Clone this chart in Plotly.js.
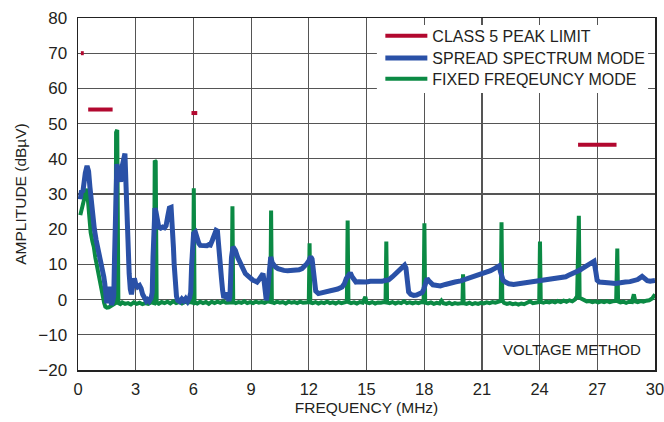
<!DOCTYPE html>
<html>
<head>
<meta charset="utf-8">
<script src="https://cdn.plot.ly/plotly-3.0.1.min.js"></script>
<style>html,body{margin:0;padding:0;background:#fff;}#chart{width:664px;height:422px;}</style>
</head>
<body>
<div id="chart"></div>
<script>
// CLASS 5 PEAK LIMIT segments (null separates segments)
const limitFreq = [0.15, 0.3, null, 0.53, 1.8, null, 5.9, 6.2, null, 26, 28];
const limitAmp  = [70, 70, null, 54, 54, null, 53, 53, null, 44, 44];

// SPREAD SPECTRUM MODE
const ssFreq = [0.12,0.18,0.25,0.3,0.38,0.47,0.55,0.62,0.7,0.77,0.85,0.94,1.02,1.1,1.2,1.28,1.34,1.39,1.45,1.5,1.56,1.62,1.68,1.74,1.8,1.86,1.9,1.95,2.02,2.08,2.15,2.22,2.3,2.38,2.44,2.5,2.55,2.6,2.66,2.72,2.78,2.85,2.93,3.0,3.1,3.2,3.28,3.36,3.45,3.55,3.62,3.7,3.8,3.86,3.9,3.95,4.0,4.05,4.12,4.2,4.3,4.4,4.5,4.58,4.66,4.75,4.84,4.9,4.96,5.0,5.06,5.12,5.18,5.3,5.4,5.5,5.6,5.7,5.8,5.86,5.91,5.96,6.01,6.1,6.18,6.28,6.36,6.5,6.6,6.7,6.8,6.88,6.98,7.08,7.18,7.25,7.32,7.4,7.46,7.52,7.58,7.65,7.72,7.78,7.85,7.9,7.94,7.98,8.06,8.12,8.18,8.3,8.44,8.55,8.7,8.82,8.96,9.1,9.2,9.31,9.4,9.48,9.55,9.62,9.68,9.74,9.79,9.85,9.92,9.97,10.02,10.1,10.18,10.26,10.4,10.52,10.7,10.9,11.1,11.3,11.5,11.65,11.8,11.9,12.0,12.1,12.17,12.25,12.3,12.36,12.5,12.7,12.9,13.1,13.3,13.5,13.73,13.85,13.95,14.05,14.16,14.25,14.35,14.45,14.6,14.8,15.0,15.2,15.4,15.6,15.8,16.0,16.15,16.35,16.55,16.7,16.85,16.98,17.05,17.12,17.19,17.3,17.45,17.6,17.75,17.89,17.98,18.06,18.15,18.25,18.35,18.45,18.6,18.84,19.1,19.3,19.6,19.9,20.2,20.5,20.7,20.95,21.2,21.45,21.65,21.8,21.9,21.96,22.02,22.1,22.22,22.4,22.65,22.9,23.2,23.52,23.8,24.04,24.3,24.6,24.82,25.1,25.36,25.51,25.7,25.9,26.1,26.21,26.4,26.6,26.75,26.83,26.92,26.99,27.1,27.27,27.5,27.7,27.94,28.2,28.46,28.7,28.9,29.1,29.33,29.45,29.6,29.75,29.87,30];
const ssAmp = [28.5,31,30.5,33,36,38,36.5,32,27,22.5,20,17,15,13,11,9.3,6.5,4.6,0.5,-1,2.5,3.6,1.5,-1.5,-0.5,1,12,30,38.5,36.5,34,33.5,38,41,41.5,32,22,15,7.4,3,1.5,4,6,4.5,3.6,4,3.2,1.5,0.3,-0.4,0,-0.5,0.4,2,12,22,26,25,22,20.6,20.3,20.6,20.4,21,23.5,26,26.2,22,15,10,4,1,-0.2,-0.6,0.2,-0.4,0.3,-0.5,0.5,2,10,15,18.8,19.2,17.5,16,15.4,15.3,15.5,15.3,15.6,15.5,16.8,18.5,19.7,19.5,16,11,6,2.6,0.5,1,2,0.5,-0.3,1,8,12,15,14.5,14,12,10.2,9,7.4,6.8,6,5.5,5.3,5,5.6,6.4,7,7.4,5,1.5,-0.2,2,8,11,12.1,10.5,9.8,9.3,8.8,8.5,8.3,8.2,8.3,8.2,8.5,8.8,9.5,10.2,11,12.2,11.5,7,3.5,2.4,1.7,1.9,2.2,2.3,2.6,3,3.6,4.5,6,7,7.6,6.5,5.5,5,5.1,4.9,5,5.2,5.1,5.3,5.2,5.5,5.6,6.5,7.5,8.5,9.3,9.8,9,5,2.2,1.5,1.2,1.3,1.5,2,3,4.5,6,5.3,4.5,4.2,4.1,3.9,4.3,4.7,5,5.3,5.8,6.3,6.6,7,7.5,8.2,8.8,9.3,9.6,8,6.4,5.5,5,4.5,4.3,4.5,4.6,4.7,5.1,5.4,5.6,5.8,6,6.2,6.5,6.9,7.3,7.8,8.4,8.8,9.5,10.2,10.7,10.9,8,5.5,5,5,4.9,4.7,4.6,4.9,5,5.1,5.5,5.7,6.6,6,5.4,5.2,5.3,5.4];

// FIXED FREQEUNCY MODE
const ffFreq = [0.12,0.2,0.28,0.36,0.45,0.52,0.6,0.66,0.75,0.82,0.9,1.0,1.08,1.15,1.22,1.3,1.36,1.42,1.5,1.6,1.7,1.8,1.88,1.95,1.98,2.04,2.1,2.2,2.3,2.45,2.6,2.75,2.9,3.05,3.2,3.35,3.5,3.65,3.8,3.95,3.99,4.04,4.09,4.2,4.35,4.5,4.65,4.8,4.95,5.1,5.25,5.4,5.55,5.7,5.85,5.98,6.02,6.06,6.2,6.35,6.5,6.65,6.8,6.95,7.1,7.25,7.4,7.55,7.7,7.85,7.99,8.03,8.07,8.2,8.35,8.5,8.65,8.8,8.95,9.1,9.25,9.4,9.55,9.7,9.85,10.0,10.04,10.08,10.2,10.35,10.5,10.65,10.8,10.95,11.1,11.25,11.4,11.55,11.7,11.85,12.0,12.04,12.08,12.2,12.35,12.5,12.65,12.8,12.95,13.1,13.25,13.4,13.55,13.7,13.85,13.98,14.02,14.06,14.2,14.35,14.5,14.65,14.8,14.94,15.0,15.15,15.3,15.45,15.6,15.75,15.9,15.99,16.03,16.07,16.2,16.35,16.5,16.65,16.8,16.95,17.1,17.25,17.4,17.55,17.7,17.85,17.97,18.01,18.05,18.2,18.35,18.5,18.65,18.8,18.9,19.0,19.15,19.3,19.45,19.6,19.75,19.9,19.99,20.02,20.05,20.2,20.35,20.5,20.65,20.8,20.95,21.1,21.25,21.4,21.55,21.7,21.85,21.98,22.02,22.06,22.15,22.3,22.45,22.6,22.75,22.9,23.05,23.2,23.35,23.5,23.65,23.8,23.98,24.02,24.06,24.2,24.35,24.5,24.65,24.8,24.95,25.1,25.25,25.4,25.55,25.7,25.85,25.95,26.0,26.04,26.08,26.15,26.3,26.45,26.6,26.75,26.9,27.05,27.2,27.35,27.5,27.65,27.8,27.98,28.04,28.08,28.2,28.35,28.5,28.65,28.8,28.9,28.98,29.1,29.25,29.4,29.55,29.7,29.85,30];
const ffAmp = [24,26,28,30.5,31.5,28,22,19,16.5,15,12,9,6.5,4,3.2,1,-1,-2,-2.3,-2.2,-1.8,-1.6,-1.2,-1,47.5,48.2,-1,-1.3,-0.8,-1.2,-1,-1.4,-0.8,-1.2,-0.9,-1.3,-1.0,-1.2,-0.8,-1,39.5,39.2,-0.9,-1.2,-0.7,-1,-0.6,-1.1,-0.5,-1,-0.7,-1.1,-0.6,-0.9,-0.7,-0.9,31.6,-0.8,-1.1,-0.6,-1,-0.7,-1.2,-0.6,-1,-0.6,-0.9,-0.5,-0.9,-0.7,-0.8,26.5,-0.6,-1,-0.7,-0.9,-0.5,-1,-0.7,-1,-0.6,-0.9,-0.7,-0.9,-0.5,-0.7,25.3,-0.7,-1.0,-0.6,-0.9,-0.7,-1.1,-0.6,-0.9,-0.7,-1.0,-0.6,-0.9,-0.8,-0.7,16,-0.8,-1.0,-0.7,-1.1,-0.8,-1.0,-0.6,-1.0,-0.8,-1.1,-0.7,-1.0,-0.8,-0.6,22.5,-0.7,-1.0,-0.8,-1.1,-0.7,-0.9,0.8,-0.8,-1.0,-0.7,-1.1,-0.8,-0.9,-0.7,-0.8,16.5,-0.8,-1.0,-0.7,-1.1,-0.8,-1.0,-0.5,-1.0,-0.8,-1.1,-0.8,-1.0,-0.7,-0.8,21.7,-0.9,-1.1,-0.8,-1.2,-0.9,-1.1,-0.3,-1.0,-1.2,-0.9,-1.3,-1.0,-1.2,-0.9,-1.0,7.2,-1.0,-1.2,-0.9,-1.3,-1.0,-1.2,-0.9,-1.1,-0.8,-1.0,-0.7,-0.9,-0.6,-0.4,22,-0.2,-0.9,-1.2,-1.0,-1.3,-1.1,-1.4,-1.1,-1.3,-0.9,-0.5,-1.0,-0.8,-0.7,16.5,-0.7,-0.9,-0.6,-0.8,-0.5,-0.8,-0.4,-0.7,-0.3,-0.6,-0.2,-0.5,0.1,1,15,23.8,0.5,0.3,-0.3,-0.5,-0.4,-0.7,-0.5,-0.8,-0.5,-0.7,-0.4,-0.7,-0.5,-0.4,14.5,-0.5,-0.8,-0.6,-0.9,-0.6,-0.7,1.5,-0.5,-0.7,-0.4,-0.6,-0.3,-0.2,0.3,1.5];

const xTickVals = [0,3,6,9,12,15,18,21,24,27,30];
const yTickVals = [-20,-10,0,10,20,30,40,50,60,70,80];

const FONT = "'Liberation Sans', Arial, Helvetica, sans-serif";
const TXT = '#231f20';

const traces = [
  {x: ffFreq, y: ffAmp, type: 'scatter', mode: 'lines', name: 'FIXED FREQEUNCY MODE',
   line: {color: '#0b8a44', width: 4}, legend: 'legend3'},
  {x: ssFreq, y: ssAmp, type: 'scatter', mode: 'lines', name: 'SPREAD SPECTRUM MODE',
   line: {color: '#2a51a7', width: 5}, legend: 'legend2'},
  {x: limitFreq, y: limitAmp, type: 'scatter', mode: 'lines', name: 'CLASS 5 PEAK LIMIT',
   line: {color: '#b2082f', width: 4}, connectgaps: false, legend: 'legend'}
];

const legBase = {xanchor: 'left', yanchor: 'middle', bgcolor: 'rgba(0,0,0,0)', borderwidth: 0,
  font: {family: FONT, size: 16, color: TXT}, itemwidth: 42};

const layout = {
  width: 664, height: 422,
  margin: {l: 78, r: 9, t: 18, b: 52, autoexpand: false},
  paper_bgcolor: '#fff', plot_bgcolor: '#fff',
  showlegend: true,
  legend:  Object.assign({}, legBase, {x: 0.524, y: 0.949}),
  legend2: Object.assign({}, legBase, {x: 0.524, y: 0.886}),
  legend3: Object.assign({}, legBase, {x: 0.524, y: 0.827}),
  xaxis: {
    range: [0, 30], tickvals: xTickVals, ticks: '', showgrid: true, gridcolor: '#555', gridwidth: 1.2,
    zeroline: false, showline: true, linecolor: '#222', linewidth: 1.5, mirror: true,
    tickfont: {family: FONT, size: 16.5, color: TXT}, ticklabelstandoff: 4, ticklabeloverflow: 'allow',
    title: {text: 'FREQUENCY (MHz)', font: {family: FONT, size: 15.5, color: TXT}, standoff: 5}
  },
  yaxis: {
    range: [-20, 80], tickvals: yTickVals, ticks: '', showgrid: true, gridcolor: '#555', gridwidth: 1.2,
    zeroline: false, showline: true, linecolor: '#222', linewidth: 1.5, mirror: true,
    tickfont: {family: FONT, size: 17, color: TXT}, ticklabelstandoff: 6, ticklabeloverflow: 'allow',
    title: {text: 'AMPLITUDE (dBµV)', font: {family: FONT, size: 15.5, color: TXT}, standoff: 8}
  },
  shapes: [
    {type: 'rect', xref: 'paper', yref: 'paper', x0: 0.518, x1: 0.988, y0: 0.787, y1: 0.98,
     fillcolor: '#fff', line: {width: 0}, layer: 'above'}
  ],
  annotations: [
    {text: 'VOLTAGE METHOD', xref: 'paper', yref: 'paper', x: 0.979, y: 0.059,
     xanchor: 'right', yanchor: 'middle', showarrow: false,
     font: {family: FONT, size: 15, color: TXT}}
  ]
};

Plotly.newPlot('chart', traces, layout, {displayModeBar: false, staticPlot: true});
</script>
</body>
</html>
